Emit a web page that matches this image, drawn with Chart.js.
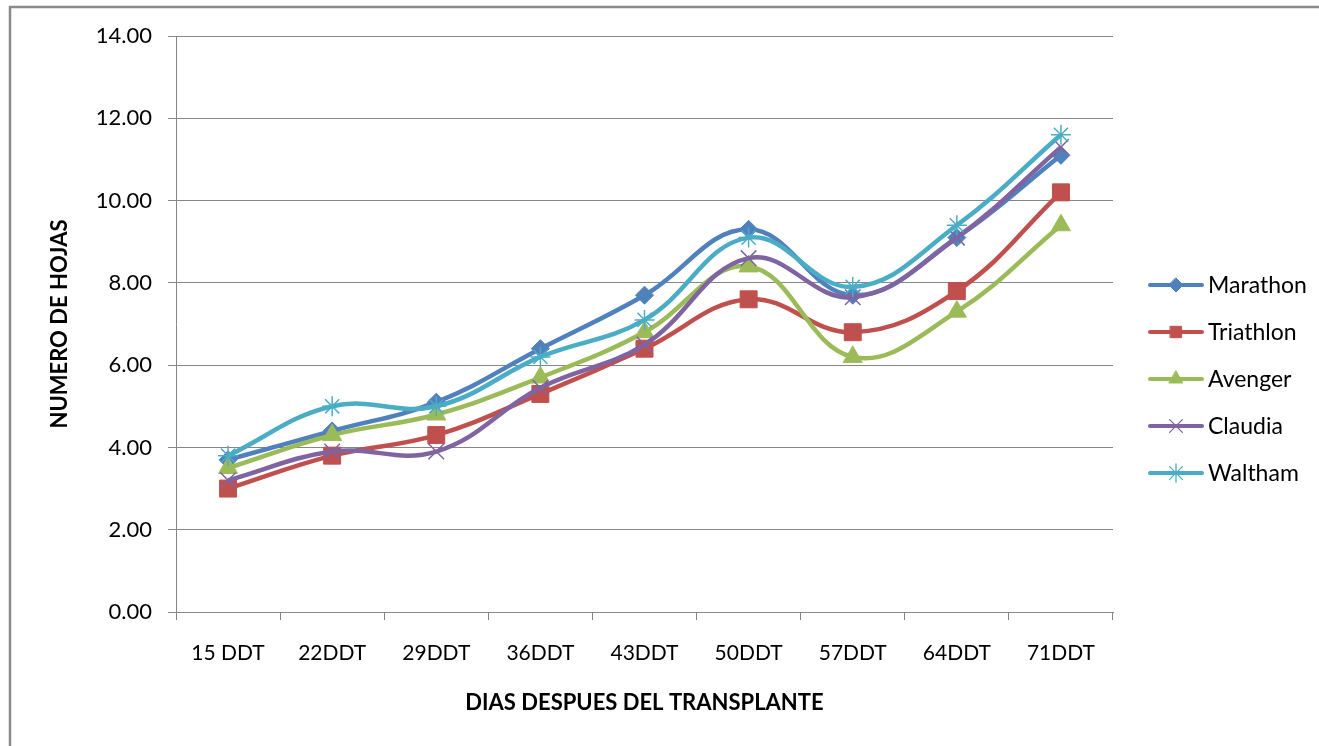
<!DOCTYPE html>
<html>
<head>
<meta charset="utf-8">
<script src="https://cdn.jsdelivr.net/npm/chart.js@4/dist/chart.umd.min.js"></script>
<style>
html,body{margin:0;padding:0;background:#fff;}
#wrap{position:relative;width:1319px;height:746px;}
</style>
</head>
<body>
<div id="wrap"><canvas id="c" width="1319" height="746"></canvas></div>
<script>
const categories = ['15 DDT','22DDT','29DDT','36DDT','43DDT','50DDT','57DDT','64DDT','71DDT'];
const seriesNames = ['Marathon','Triathlon','Avenger','Claudia','Waltham'];
const marathon  = [3.7, 4.4, 5.1, 6.4, 7.7, 9.3, 7.7, 9.1, 11.1];
const triathlon = [3.0, 3.8, 4.3, 5.3, 6.4, 7.6, 6.8, 7.8, 10.2];
const avenger   = [3.5, 4.3, 4.8, 5.7, 6.8, 8.4, 6.2, 7.3, 9.4];
const claudia   = [3.2, 3.9, 3.9, 5.45, 6.5, 8.6, 7.65, 9.1, 11.3];
const waltham   = [3.8, 5.0, 5.0, 6.2, 7.1, 9.1, 7.9, 9.4, 11.6];
const yTicks = [0, 2, 4, 6, 8, 10, 12, 14];
const yTitle = 'NUMERO DE HOJAS';
const xTitle = 'DIAS DESPUES DEL TRANSPLANTE';

const colors = ['#4F81BD','#C0504D','#9BBB59','#8064A2','#4BACC6'];
const styles = ['rectRot','rect','triangle','crossRot','star'];
const radii  = [9, 12, 11, 11, 10];
const legendRadii = [7, 8, 8, 9, 9];
const values = [marathon, triathlon, avenger, claudia, waltham];
const FONT = 'Lato, "Open Sans", "DejaVu Sans", sans-serif';

const datasets = seriesNames.map((n, i) => ({
  label: n,
  data: values[i],
  borderColor: colors[i],
  backgroundColor: colors[i],
  borderWidth: 4.5,
  tension: 0.4,
  pointStyle: styles[i],
  pointRadius: radii[i],
  pointHoverRadius: radii[i],
  pointBackgroundColor: colors[i],
  pointBorderColor: colors[i],
  pointBorderWidth: (i >= 3) ? 1.5 : 1,
  order: 5 - i,
  fill: false
}));

function drawMarker(ctx, style, x, y, r, color, bw) {
  ctx.save();
  ctx.fillStyle = color; ctx.strokeStyle = color; ctx.lineWidth = bw;
  ctx.beginPath();
  if (style === 'rectRot') {
    ctx.moveTo(x, y - r); ctx.lineTo(x + r, y); ctx.lineTo(x, y + r); ctx.lineTo(x - r, y); ctx.closePath();
    ctx.fill(); ctx.stroke();
  } else if (style === 'rect') {
    const s = r * Math.SQRT1_2;
    ctx.rect(x - s, y - s, 2 * s, 2 * s); ctx.fill(); ctx.stroke();
  } else if (style === 'triangle') {
    ctx.moveTo(x, y - r);
    ctx.lineTo(x + r * Math.sin(Math.PI * 2 / 3), y - r * Math.cos(Math.PI * 2 / 3));
    ctx.lineTo(x - r * Math.sin(Math.PI * 2 / 3), y - r * Math.cos(Math.PI * 2 / 3));
    ctx.closePath(); ctx.fill(); ctx.stroke();
  } else if (style === 'crossRot' || style === 'star') {
    const d = r * Math.SQRT1_2;
    ctx.moveTo(x - d, y - d); ctx.lineTo(x + d, y + d);
    ctx.moveTo(x - d, y + d); ctx.lineTo(x + d, y - d);
    if (style === 'star') { ctx.moveTo(x, y - r); ctx.lineTo(x, y + r); }
    ctx.stroke();
  }
  ctx.restore();
}

const framePlugin = {
  id: 'frame',
  beforeDraw(chart) {
    const ctx = chart.ctx;
    ctx.save();
    ctx.fillStyle = '#fff';
    ctx.fillRect(0, 0, chart.width, chart.height);
    ctx.strokeStyle = '#8a8a8a';
    ctx.lineWidth = 2.5;
    ctx.beginPath();
    ctx.moveTo(10, chart.height + 2);
    ctx.lineTo(10, 7);
    ctx.lineTo(chart.width + 2, 7);
    ctx.stroke();
    ctx.restore();
  }
};

const legendPlugin = {
  id: 'customLegend',
  afterDraw(chart) {
    const ctx = chart.ctx;
    const x0 = 1150, x1 = 1202, tx = 1208, y0 = 285, dy = 47;
    ctx.save();
    seriesNames.forEach((n, i) => {
      const y = y0 + i * dy;
      ctx.strokeStyle = colors[i];
      ctx.lineWidth = 4;
      ctx.lineCap = 'round';
      ctx.beginPath(); ctx.moveTo(x0, y); ctx.lineTo(x1, y); ctx.stroke();
      drawMarker(ctx, styles[i], (x0 + x1) / 2, y, legendRadii[i], colors[i], i >= 3 ? 1.3 : 1);
      ctx.fillStyle = '#000';
      ctx.font = '23px ' + FONT;
      ctx.textAlign = 'left';
      ctx.textBaseline = 'middle';
      ctx.fillText(n, tx, y + 1);
    });
    ctx.restore();
  }
};

new Chart(document.getElementById('c'), {
  type: 'line',
  data: { labels: categories, datasets },
  plugins: [framePlugin, legendPlugin],
  options: {
    responsive: false,
    animation: false,
    devicePixelRatio: 1,
    layout: { padding: { top: 36, right: 1319 - 1113, bottom: 0, left: 0 } },
    plugins: { legend: { display: false }, tooltip: { enabled: false } },
    scales: {
      x: {
        offset: true,
        grid: { offset: true, drawOnChartArea: false, tickLength: 8, color: '#868686', lineWidth: 1 },
        border: { display: true, color: '#868686', width: 1 },
        ticks: { color: '#000', font: { family: FONT, size: 21 }, padding: 21, maxRotation: 0, autoSkip: false },
        title: { display: true, text: xTitle, color: '#000', font: { family: FONT, size: 22, weight: 'bold' }, padding: { top: 0, bottom: 30 } },
        afterFit(scale) { scale.height = 746 - 612; }
      },
      y: {
        min: 0, max: 14,
        afterBuildTicks(scale) { scale.ticks = yTicks.map(v => ({ value: v })); },
        grid: { color: '#868686', lineWidth: 1, tickLength: 8 },
        border: { display: true, color: '#868686', width: 1 },
        ticks: { color: '#000', font: { family: FONT, size: 22 }, padding: 16, callback: v => Number(v).toFixed(2) },
        title: { display: true, text: yTitle, color: '#000', font: { family: FONT, size: 22, weight: 'bold' }, padding: { top: 47, bottom: 0 } },
        afterFit(scale) { scale.width = 176; }
      }
    }
  }
});
</script>
</body>
</html>
